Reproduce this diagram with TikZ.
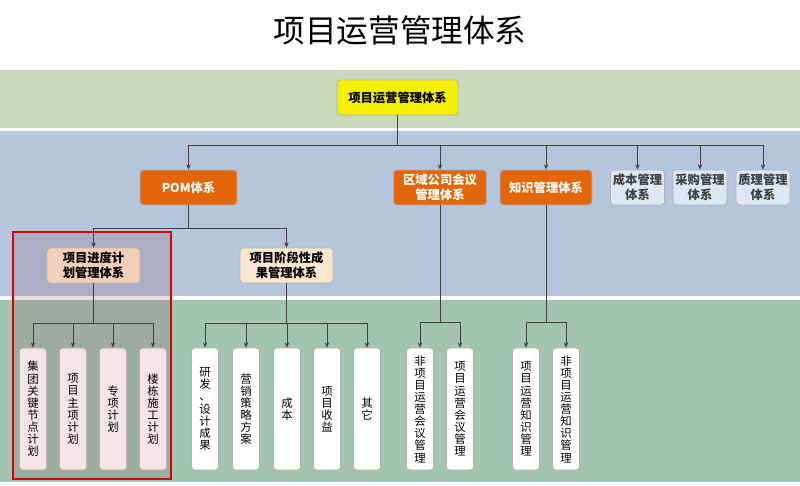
\documentclass[tikz,border=0pt]{standalone}
\usepackage{fontspec}
\setmainfont{Noto Sans CJK SC}
\usetikzlibrary{arrows.meta}

\definecolor{bandtop}{HTML}{C9D9BC}
\definecolor{bandmid}{HTML}{B4C5DC}
\definecolor{bandlow}{HTML}{A2C4B0}
\definecolor{orng}{HTML}{E4660A}
\definecolor{yel}{HTML}{F5F000}
\definecolor{lblue}{HTML}{DDE7F3}
\definecolor{peach}{HTML}{F3CFBA}
\definecolor{cream}{HTML}{FBE6CF}
\definecolor{pink}{HTML}{F3E3E6}

\tikzset{
	box/.style={draw=gray!60, rounded corners=2pt, align=center, inner sep=0pt,
		font=\fontsize{7}{8.5}\selectfont\bfseries},
	hbox/.style={box, minimum width=1.86cm, minimum height=0.7cm},
	sbox/.style={box, minimum width=1.08cm, minimum height=0.7cm, fill=lblue, text=black!75},
	vbox/.style={box, minimum width=0.54cm, minimum height=2.44cm, fill=white,
		font=\fontsize{6.5}{6.9}\selectfont},
	arr/.style={draw=black!75, -{Stealth[length=3pt,width=2.5pt]}},
}

\begin{document}
\begin{tikzpicture}[x=0.02cm, y=-0.02cm]
\useasboundingbox (0,0) rectangle (800,486);
\fill[white] (0,0) rectangle (800,486);

% bands
\fill[bandtop] (0,70) rectangle (800,128);
\fill[bandmid] (0,131) rectangle (800,296);
\fill[bandlow] (0,300) rectangle (800,482);

\node (title) at (400,30) {\fontsize{18}{22}\selectfont 项目运营管理体系};

% red frame
\filldraw[draw=red!85!black, line width=1pt, fill={rgb,255:red,140;green,60;blue,90}, fill opacity=0.18]
	(13,232) rectangle (171,479);

\node[hbox, minimum width=2.42cm, fill=yel] (top) at (397.5,97.5) {项目运营管理体系};

% level 2
\node[hbox, minimum width=1.94cm, fill=orng, text=white] (pom) at (188.5,187.5) {POM体系};
\node[hbox, fill=orng, text=white] (meet) at (440,187.5) {区域公司会议\\管理体系};
\node[hbox, minimum width=1.84cm, fill=orng, text=white] (know) at (546,187.5) {知识管理体系};
\node[sbox] (cost) at (637.5,187.5) {成本管理\\体系};
\node[sbox] (buy) at (700,187.5) {采购管理\\体系};
\node[sbox] (qual) at (763,187.5) {质理管理\\体系};

\foreach \n in {pom,meet,know,cost,buy,qual}
	\draw[arr] (top.south) -- ++(0,30) -| (\n.north);

% level 3
\node[hbox, fill=peach] (sched) at (93.5,265.5) {项目进度计\\划管理体系};
\node[hbox, fill=cream] (stage) at (286.5,265.5) {项目阶段性成\\果管理体系};

\foreach \n in {sched,stage}
	\draw[arr] (pom.south) -- ++(0,23) -| (\n.north);

% level 4
\node[vbox, fill=pink] (s1) at (33,409) {集\\团\\关\\键\\节\\点\\计\\划};
\node[vbox, fill=pink] (s2) at (73,409) {项\\目\\主\\项\\计\\划};
\node[vbox, fill=pink] (s3) at (113,409) {专\\项\\计\\划};
\node[vbox, fill=pink] (s4) at (153,409) {楼\\栋\\施\\工\\计\\划};

\node[vbox] (r1) at (205,409) {研\\发\\、\\设\\计\\成\\果};
\node[vbox] (r2) at (246,409) {营\\销\\策\\略\\方\\案};
\node[vbox] (r3) at (287,409) {成\\本};
\node[vbox] (r4) at (327,409) {项\\目\\收\\益};
\node[vbox] (r5) at (367,409) {其\\它};

\node[vbox] (m1) at (420,409) {非\\项\\目\\运\\营\\会\\议\\管\\理};
\node[vbox] (m2) at (460,409) {项\\目\\运\\营\\会\\议\\管\\理};

\node[vbox] (k1) at (526,409) {项\\目\\运\\营\\知\\识\\管\\理};
\node[vbox] (k2) at (566,409) {非\\项\\目\\运\\营\\知\\识\\管\\理};

\foreach \n in {s1,s2,s3,s4}
	\draw[arr] (sched.south) -- ++(0,40) -| (\n.north);
\foreach \n in {r1,r2,r3,r4,r5}
	\draw[arr] (stage.south) -- ++(0,40) -| (\n.north);
\foreach \n in {m1,m2}
	\draw[arr] (meet.south) -- ++(0,117) -| (\n.north);
\foreach \n in {k1,k2}
	\draw[arr] (know.south) -- ++(0,117) -| (\n.north);

\end{tikzpicture}
\end{document}
